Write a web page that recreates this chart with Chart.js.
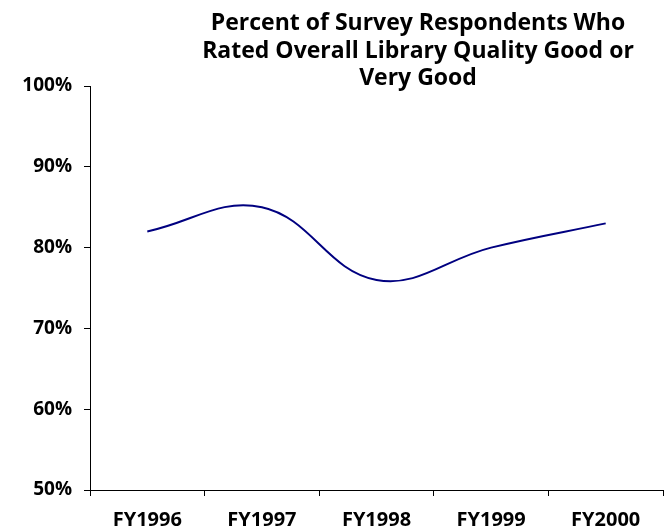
<!DOCTYPE html>
<html>
<head>
<meta charset="utf-8">
<script src="https://cdn.jsdelivr.net/npm/chart.js@4.4.1/dist/chart.umd.min.js"></script>
<style>
    body { margin: 0; background: #fff; }
    #wrap { position: relative; width: 664px; height: 531px; }
    #chartTitle {
        position: absolute; left: 168px; top: 8px; width: 500px;
        text-align: center; font-family: "Open Sans", sans-serif;
        font-weight: bold; font-size: 23px; line-height: 27.5px; color: #000;
    }
</style>
</head>
<body>
<div id="wrap">
    <canvas id="surveyChart" width="664" height="531"></canvas>
    <div id="chartTitle">Percent of Survey Respondents Who<br>Rated Overall Library Quality Good or<br>Very Good</div>
</div>
<script>
// values
var fiscalYears = ['FY1996', 'FY1997', 'FY1998', 'FY1999', 'FY2000'];
var pctGoodOrVeryGood = [82, 85, 76, 80, 83];
var yTickValues = [50, 60, 70, 80, 90, 100];

document.addEventListener('DOMContentLoaded', (event) => {
    drawSurveyChart('surveyChart');
});

function drawSurveyChart(canvasId) {
    var ctx = document.getElementById(canvasId);
    var surveyChart = new Chart(ctx, {
        type: 'line',
        data: {
            labels: fiscalYears,
            datasets: [{
                label: 'Good or Very Good',
                data: pctGoodOrVeryGood,
                borderColor: '#000080',
                borderWidth: 2,
                pointRadius: 0,
                tension: 0.4,
                fill: false
            }]
        },
        options: {
            responsive: false,
            animation: false,
            layout: { padding: { top: 86, right: 1, left: 0, bottom: 0 } },
            plugins: {
                legend: { display: false },
                title: { display: false },
                tooltip: { enabled: false }
            },
            scales: {
                x: {
                    offset: true,
                    afterFit: function (scale) { scale.height = 41; },
                    grid: {
                        offset: true,
                        drawOnChartArea: false,
                        drawTicks: true,
                        tickLength: 6,
                        color: '#000'
                    },
                    border: { display: true, color: '#000', width: 1 },
                    ticks: {
                        color: '#000',
                        padding: 12,
                        maxRotation: 0,
                        font: { family: 'Open Sans', weight: 'bold', size: 20 }
                    }
                },
                y: {
                    min: 50,
                    max: 100,
                    afterFit: function (scale) { scale.width = 90; },
                    afterBuildTicks: function (scale) {
                        scale.ticks = yTickValues.map(function (v) { return { value: v }; });
                    },
                    grid: {
                        drawOnChartArea: false,
                        drawTicks: true,
                        tickLength: 6,
                        color: '#000'
                    },
                    border: { display: true, color: '#000', width: 1 },
                    ticks: {
                        color: '#000',
                        padding: 12,
                        callback: function (value) { return value + '%'; },
                        font: { family: 'Open Sans', weight: 'bold', size: 19 }
                    }
                }
            }
        }
    });
}
</script>
</body>
</html>
